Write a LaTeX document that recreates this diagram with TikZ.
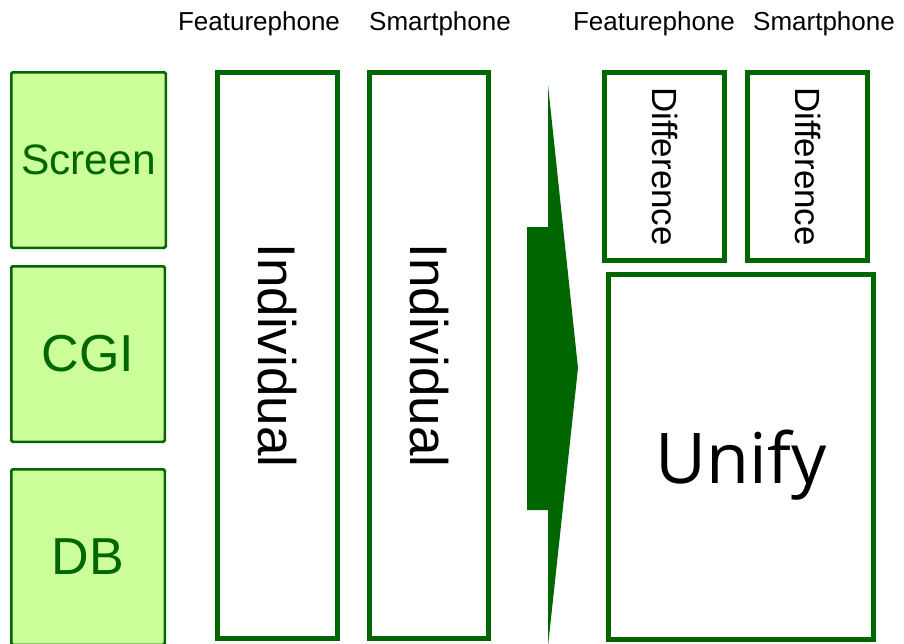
\documentclass[tikz,border=0pt]{standalone}
\usepackage{fontspec}
\setmainfont{Liberation Sans}
\newfontfamily\unifyfont{Open Sans}
\definecolor{dkgreen}{HTML}{006600}
\definecolor{ltgreen}{HTML}{CCFF99}
\tikzset{
  layer/.style={draw=dkgreen, fill=ltgreen, line width=2.5pt, rounded corners=1.5pt,
    text=dkgreen, inner sep=0pt, anchor=center},
  block/.style={draw=dkgreen, fill=white, line width=5pt, inner sep=0pt, anchor=center},
  head/.style={font=\fontsize{26}{30}\selectfont, anchor=base, inner sep=0pt},
  vtext/.style={rotate=-90, inner sep=0pt},
}
\begin{document}
\begin{tikzpicture}[x=1pt, y=-1pt]
  \useasboundingbox (0,0) rectangle (904,643);
  \clip (0,0) rectangle (904,643);
  \fill[white] (0,0) rectangle (904,643);

  % column headers
  \node[head] (h1) at (259,30) {Featurephone};
  \node[head] (h2) at (440,30) {Smartphone};
  \node[head] (h3) at (654,30) {Featurephone};
  \node[head] (h4) at (824,30) {Smartphone};

  % layers
  \node[layer, minimum width=154.5pt, minimum height=175.5pt,
        font=\fontsize{42.5}{48}\selectfont] (screen) at (88.5,160) {Screen};
  \node[layer, minimum width=153.5pt, minimum height=175.5pt,
        font=\fontsize{52}{58}\selectfont] (cgi) at (88,354) {CGI};
  \node[layer, minimum width=153.5pt, minimum height=175.5pt,
        font=\fontsize{52}{58}\selectfont] (db) at (88,557) {DB};

  % separate implementations per device
  \node[block, minimum width=120pt, minimum height=566pt] (ind1) at (277.5,355.5) {};
  \node[block, minimum width=119pt, minimum height=566pt] (ind2) at (429,355.5) {};
  \node[vtext, font=\fontsize{53}{58}\selectfont] (ind1t) at (ind1.center) {Individual};
  \node[vtext, font=\fontsize{53}{58}\selectfont] (ind2t) at (ind2.center) {Individual};

  % transition arrow
  \fill[dkgreen] (527,227) -- (548,227) -- (548,85) -- (578,368) -- (548,646)
                 -- (548,510) -- (527,510) -- cycle;

  % unified implementation with device differences
  \node[block, minimum width=120pt, minimum height=188pt] (dif1) at (664.5,166.5) {};
  \node[block, minimum width=120pt, minimum height=188pt] (dif2) at (807.5,166.5) {};
  \node[vtext, font=\fontsize{35}{40}\selectfont] (dif1t) at (dif1.center) {Difference};
  \node[vtext, font=\fontsize{35}{40}\selectfont] (dif2t) at (dif2.center) {Difference};
  \node[block, minimum width=265pt, minimum height=365pt] (unify) at (741,457) {};
  \node[font=\unifyfont\fontsize{70}{78}\selectfont, anchor=base, inner sep=0pt]
        (unifyt) at (741,483) {Unify};
\end{tikzpicture}
\end{document}
